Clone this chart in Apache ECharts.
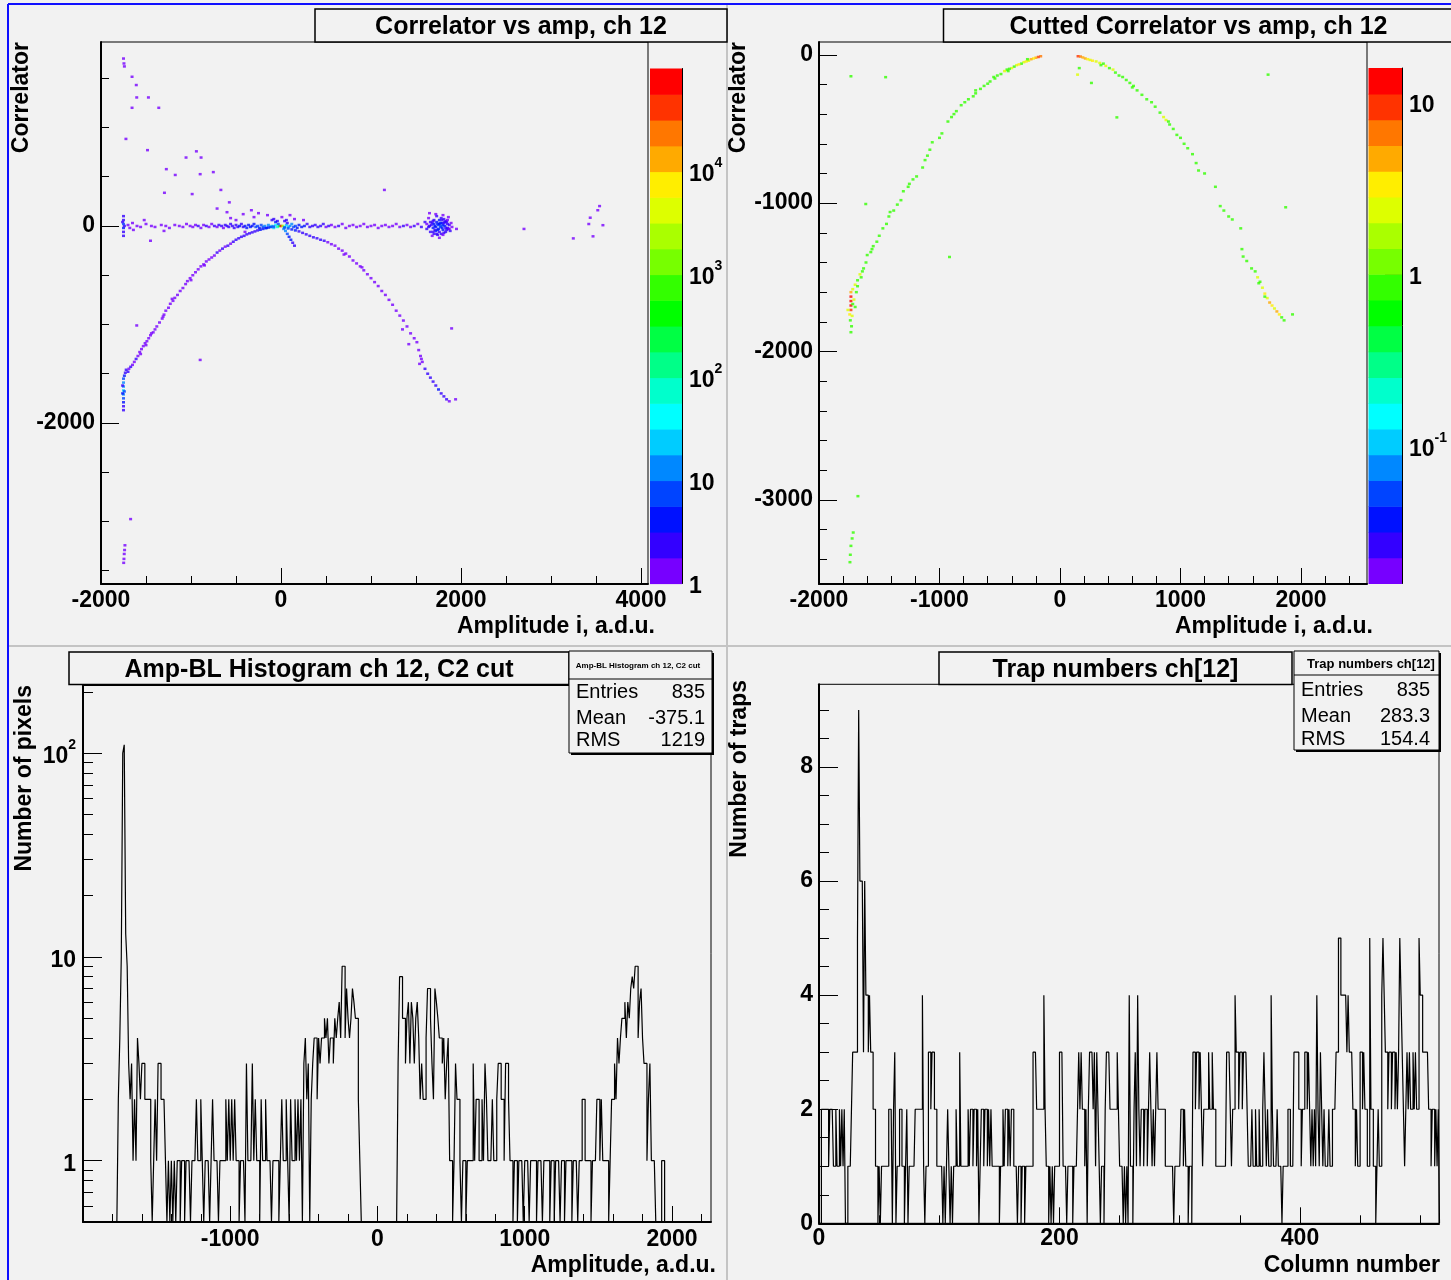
<!DOCTYPE html>
<html><head><meta charset="utf-8">
<script src="https://cdn.jsdelivr.net/npm/echarts@6/dist/echarts.min.js"></script>
<style>html,body{margin:0;padding:0;background:#f2f2f2}#c{width:1451px;height:1280px}</style>
</head><body><div id="c"></div>
<script>
const FONT = '"Liberation Sans", Arial, Helvetica, sans-serif';

// ---------- palette (bottom -> top) ----------
const palette = ['#7700ff','#3300ff','#0011ff','#0044ff','#0088ff','#00ccff','#00ffff','#00ffcc','#00ff88','#00ff44',
                 '#00ff00','#33ff00','#77ff00','#aaff00','#ddff00','#ffee00','#ffaa00','#ff7700','#ff3300','#ff0000'];
const tlZRange = [1, 100000];
const trZRange = [0.01585, 15.85];

// ---------- Top-left: Correlator vs amp (x, y, content) ----------
const tlBins = [
 [-1750,1700,1],[-1745,1650,1],[-1740,1620,1],[-1655,1515,1],[-1608,1431,1],[-1603,1305,1],[-1473,1305,1],[-1655,1200,1],
 [-1358,1200,1],[-1723,884,1],[-1483,770,1],[-940,758,1],[-1055,695,1],[-888,695,1],[-1274,577,1],[-1175,518,1],[-898,526,1],
 [-752,547,1],[-1295,337,1],[-987,324,1],[-668,366,1],[-574,240,1],[-710,177,1],[-329,160,1],[1149,366,1],[3540,202,1],
 [3520,160,1],[3436,84,1],[3467,-105,1],[3248,-126,1],[3577,8,1],[3420,20,1],[2700,-30,1],[-898,-1360,1],[1896,-1040,1],
 [-1603,-1010,1],[-1671,-2976,1],[-1734,-3242,1],[-1738,-3290,1],[-1742,-3330,1],[-1745,-3380,1],[-1748,-3420,1],
 [-1750,100,2],[-1750,60,3],[-1750,20,6],[-1750,-20,5],[-1750,-60,3],[-1750,-100,2],[-1740,0,3],[-1760,40,2],
 [-1700,10,1],[-1680,-20,1],[-1650,30,1],[-1640,-40,1],[-1600,0,1],[-1560,-10,1],[-1500,20,1],[-1440,0,1],[-1400,-10,1],
 [-1330,10,1],[-1280,0,1],[-1240,-20,1],[-1180,10,1],[-1130,0,1],[-1090,-10,1],[-1050,20,1],[-1010,0,1],[-980,-10,1],
 [-950,10,1],[-920,0,2],[-890,-20,1],[-860,10,1],[-830,0,2],[-800,-10,1],[-770,20,1],[-740,0,2],[-710,-10,1],[-690,10,2],
 [-660,0,2],[-640,-20,1],[-620,10,2],[-600,0,3],[-580,-10,2],[-560,20,2],[-540,0,3],[-520,-20,2],[-500,10,3],[-480,-10,3],
 [-460,0,4],[-440,20,3],[-420,-10,3],[-400,0,4],[-380,-20,4],[-360,10,4],[-340,-10,5],[-320,0,5],[-300,20,4],[-280,-10,6],
 [-260,0,6],[-240,-20,5],[-220,10,7],[-200,-10,8],[-180,0,10],[-160,-20,8],[-140,10,12],[-120,-10,15],[-100,0,25],
 [-80,-20,20],[-60,10,40],[-40,-10,80],[-20,0,300],[0,0,60000],[20,0,2000],[40,-10,60],[60,10,30],[80,-10,20],[100,0,15],
 [120,20,10],[140,-10,8],[160,0,6],[180,-20,5],[200,10,5],[230,-10,4],[260,0,4],[290,20,3],[320,-10,3],[350,0,3],[380,10,2],
 [410,-10,2],[440,0,2],[470,20,2],[500,-10,1],[530,0,2],[560,10,1],[600,-10,1],[640,0,2],[680,20,1],[720,-20,1],[760,0,1],
 [800,10,1],[840,-10,1],[880,0,1],[920,20,1],[960,-10,1],[1000,0,1],[1040,10,1],[1080,-20,1],[1120,0,1],[1160,10,1],
 [1200,-10,1],[1240,0,1],[1280,20,1],[1320,-10,1],[1360,0,2],[1400,10,1],[1440,-10,1],[1480,0,2],[1520,20,1],[1560,-10,2],
 [1600,40,2],[1620,-30,2],[1640,80,1],[1650,0,3],[1660,-60,2],[1680,30,3],[1690,-20,4],[1700,60,3],[1710,0,5],[1720,-50,4],
 [1730,100,2],[1740,20,5],[1750,-30,5],[1760,60,4],[1770,-10,6],[1780,-80,3],[1790,30,5],[1800,-40,4],[1810,70,3],[1820,0,5],
 [1830,-60,3],[1840,40,3],[1850,-20,3],[1860,90,1],[1870,10,2],[1880,-50,2],[1890,30,1],[1900,-10,1],[1720,120,1],
 [1760,-120,1],[1800,110,1],[1680,-100,1],[1950,-30,1],[1650,130,1],[1700,-80,2],[1740,-90,2],[1780,80,2],[1830,50,2],
 [1670,10,3],[1690,50,2],[1710,-40,3],[1730,40,4],[1750,10,6],[1760,-60,3],[1770,30,5],[1790,-20,5],[1800,10,4],[1810,-70,2],
 [1820,40,3],[1840,-40,3],[1850,20,2],[1860,-30,2],[1700,20,4],[1720,-10,5],[1740,-40,4],[1780,0,6],[1760,20,5],[1730,-80,2],
 [1790,60,2],[1810,30,3],[1830,-20,3],[1870,-30,1],[1690,-60,2],[1660,40,2],[1640,-10,2],[1620,20,1],[1850,60,1],[1800,-90,1],
 [-600,140,1],[-560,80,1],[-500,60,1],[-420,120,1],[-300,90,1],[-250,130,1],[-150,110,1],[-80,70,2],[-40,50,3],[10,90,1],
 [60,60,2],[100,110,1],[150,70,1],[250,60,1],[-400,-60,1],[-1450,-150,1],[-1520,60,1],[-1300,-50,1],
 [-60,40,4],[-30,20,8],[30,-30,15],[50,-50,10],[70,-80,8],[90,-110,5],[110,-140,4],[130,-170,3],[150,-200,2],[-100,60,2],
 [40,50,3],[70,30,2],
 [-1750,-1870,2],[-1750,-1830,3],[-1750,-1790,5],[-1750,-1750,8],[-1750,-1710,12],[-1750,-1670,20],[-1750,-1630,15],
 [-1750,-1590,10],[-1750,-1550,6],[-1740,-1520,4],[-1730,-1490,3],[-1720,-1460,2],[-1760,-1700,4],[-1740,-1680,6],
 [-1760,-1620,3],[-1700,-1480,2],[-1690,-1450,1],[-1670,-1430,2],[-1650,-1410,1],[-1630,-1380,1],[-1610,-1350,2],
 [-1590,-1320,1],[-1570,-1280,1],[-1550,-1250,1],[-1530,-1220,1],[-1510,-1190,1],[-1490,-1170,1],[-1470,-1140,1],
 [-1450,-1110,1],[-1420,-1080,1],[-1400,-1050,1],[-1380,-1020,1],[-1350,-980,1],[-1320,-940,1],[-1300,-900,1],
 [-1280,-860,1],[-1250,-830,1],[-1230,-790,1],[-1200,-760,1],[-1180,-730,1],[-1150,-700,1],[-1120,-660,1],[-1090,-630,1],
 [-1060,-590,1],[-1040,-560,1],[-1010,-530,1],[-980,-500,1],[-950,-470,1],[-920,-440,1],[-890,-410,1],[-860,-390,1],
 [-830,-360,1],[-800,-340,1],[-770,-320,1],[-740,-300,1],[-710,-270,2],[-680,-250,1],[-650,-230,2],[-620,-210,1],
 [-590,-200,2],[-560,-180,1],[-530,-160,2],[-500,-140,2],[-470,-125,2],[-440,-110,2],[-410,-100,2],[-380,-85,2],
 [-350,-75,3],[-320,-65,3],[-290,-55,3],[-260,-45,3],[-230,-38,4],[-200,-30,4],[-170,-22,5],[-140,-16,5],[-110,-10,6],
 [-80,-6,8],[-1500,-1210,1],[-1440,-1090,1],[-1000,-550,1],[-1210,-740,1],[-1310,-920,1],[-1560,-1300,1],[-850,-400,1],
 [40,-15,8],[80,-25,6],[120,-35,5],[160,-45,4],[200,-55,3],[240,-70,3],[280,-85,3],[320,-100,2],[360,-115,2],[400,-125,2],
 [440,-140,2],[480,-150,2],[520,-165,1],[560,-185,1],[600,-200,1],[640,-230,1],[680,-250,1],[720,-280,1],[760,-310,1],
 [800,-350,1],[840,-380,1],[880,-410,1],[920,-450,1],[960,-490,1],[1000,-530,1],[1040,-570,1],[1080,-610,1],[1120,-660,1],
 [1160,-700,1],[1200,-750,1],[1240,-800,1],[1280,-860,1],[1320,-910,1],[1360,-960,1],[1400,-1020,1],[1440,-1090,1],
 [1480,-1140,1],[1510,-1180,1],[1530,-1260,1],[1550,-1320,1],[1570,-1380,1],[1600,-1450,2],[1630,-1500,2],[1660,-1540,2],
 [1690,-1580,3],[1720,-1620,3],[1750,-1660,4],[1780,-1700,3],[1810,-1730,3],[1840,-1760,2],[1870,-1780,1],[1940,-1760,1],
 [1540,-1400,1],[1560,-1350,1],[1350,-1050,1],[1420,-1200,1],[700,-290,1],[900,-420,1]
];

// ---------- Top-right: Cutted correlator vs amp (x, y, content) ----------
const trBins = [
 [-160,-10,6],[-180,-15,8],[-200,-20,5],[-220,-25,3],[-240,-30,4],[-260,-40,2],[-280,-45,3],[-300,-50,2],[-320,-60,1],
 [-340,-65,3],[-360,-70,2],[-380,-80,1],[-400,-90,2],[-420,-95,1],[-440,-100,1],[-460,-110,2],[-490,-130,1],[-520,-140,1],
 [-550,-150,1],[-580,-180,1],[-600,-195,1],[-630,-210,1],[-660,-230,1],[-700,-260,1],[-720,-280,1],[-760,-300,1],
 [-790,-320,1],[-820,-340,1],[-860,-380,1],[-880,-400,1],[-930,-450,1],[-980,-530,1],[-1000,-560,1],[-1060,-590,1],
 [-1080,-640,1],[-1120,-710,1],[-1140,-760,1],[-1190,-820,1],[-1220,-840,1],[-1260,-890,1],[-1300,-920,1],[-1320,-980,1],
 [-1350,-1010,1],[-1380,-1050,1],[-1420,-1090,1],[-1440,-1140,1],[-1470,-1170,1],[-1500,-1220,1],[-1520,-1260,1],
 [-1550,-1290,1],[-1570,-1330,1],[-1600,-1350,1],[-1610,-1400,1],[-1630,-1440,1],[-1660,-1480,2],[-1680,-1520,1],
 [-1700,-1550,2],[-1720,-1580,2],[-1735,-1600,5],[-1735,-1630,14],[-1735,-1660,15],[-1735,-1690,12],[-1735,-1720,10],
 [-1745,-1750,3],[-1725,-1760,2],[-1740,-1790,1],[-1730,-1830,1],[-1735,-1870,1],[-1700,-1700,1],[-1710,-1650,2],
 [-1690,-1600,1],[-1680,-1560,1],[-1650,-1500,1],[-1760,-1720,2],[-1720,-1680,1],[-1640,-1460,1],[-1560,-1310,1],
 [-1410,-1060,1],[-1250,-870,1],[-1100,-680,1],[-900,-420,1],[-700,-240,1],[-540,-160,1],[-430,-110,1],[-270,-30,1],
 [150,-10,8],[170,-12,6],[190,-18,4],[210,-25,5],[230,-30,3],[250,-35,2],[270,-40,3],[300,-45,2],[330,-55,2],[360,-60,1],
 [380,-75,2],[410,-90,1],[440,-100,2],[460,-120,1],[490,-140,1],[520,-150,1],[550,-170,1],[580,-190,1],[610,-210,1],
 [640,-240,1],[680,-270,1],[720,-300,1],[760,-320,1],[790,-350,1],[830,-390,1],[860,-420,2],[880,-440,2],[910,-470,1],
 [940,-500,1],[970,-540,1],[1000,-560,1],[1030,-600,1],[1060,-630,1],[1100,-670,1],[1130,-730,1],[1150,-780,1],
 [1200,-800,1],[1290,-890,1],[1330,-1020,1],[1360,-1050,1],[1400,-1090,1],[1430,-1110,1],[1500,-1170,1],[1510,-1310,1],
 [1520,-1360,1],[1550,-1390,1],[1590,-1440,1],[1620,-1460,1],[1640,-1500,2],[1660,-1530,1],[1680,-1570,2],[1700,-1610,3],
 [1720,-1640,2],[1740,-1670,4],[1760,-1690,3],[1780,-1710,2],[1800,-1730,5],[1820,-1750,3],[1840,-1770,1],[1860,-1790,1],
 [1930,-1750,1],[340,-70,1],[600,-220,1],[900,-450,1],[1650,-1540,1],[1700,-1630,1],
 [-1735,-145,1],[-1447,-151,1],[-1612,-1006,1],[-917,-1363,1],[1727,-134,1],[1873,-1028,1],[-1677,-2975,1],[-1716,-3220,1],
 [-1725,-3260,1],[-1735,-3310,1],[-1740,-3370,1],[-1743,-3420,1],[146,-134,2],[261,-190,1],[472,-422,1],[160,-90,1]
];

// ---------- Bottom-left: Amp-BL histogram (bins of 10 a.d.u. starting at -1770) ----------
const ampStart = -1770, ampBinWidth = 10;
const ampCounts = [
 0,2,4,10,100,110,13,9,3,2,  3,1,2,1,4,3,2,3,3,2,  2,2,2,1,0,1,2,1,3,3,  2,2,2,1,0,1,0,1,0,1,
 0,1,1,0,1,1,0,1,1,1,  0,1,1,1,2,1,1,2,1,0,  1,1,1,0,1,2,1,1,1,0,  1,1,1,1,2,1,2,1,2,1,
 2,1,1,0,1,1,1,0,3,1,  1,1,3,1,2,1,1,0,2,1,  1,2,1,1,1,0,1,1,1,1,  0,1,2,1,1,2,1,0,2,1,
 1,2,1,2,1,2,0,3,4,2,  3,0,2,3,4,4,2,4,3,4,  4,5,4,5,3,4,4,3,5,4,  5,6,4,9,9,4,7,5,4,5,
 7,6,5,5,2,1,0,0,0,0,  0,0,0,0,0,0,0,0,0,0,  0,0,0,0,0,0,0,0,0,0,  0,3,8,8,5,5,3,5,6,3,
 6,5,3,5,6,4,2,3,2,2,  4,7,7,5,3,2,7,6,5,4,  4,3,4,2,3,4,1,1,0,1,  3,2,2,1,0,1,1,0,1,1,
 1,1,3,1,2,2,1,1,2,1,  3,2,1,1,1,2,1,1,2,3,  3,2,2,1,3,3,2,1,1,0,  1,1,0,1,1,1,0,1,1,1,
 0,1,1,1,1,0,1,1,1,0,  1,1,1,1,0,1,1,0,1,1,  1,0,1,1,0,1,1,1,1,0,  1,1,1,0,1,1,2,2,1,1,
 1,1,0,1,1,1,2,2,1,2,  1,1,1,1,0,1,2,2,3,2,  4,3,4,5,5,6,4,6,5,7,  8,7,9,9,4,6,7,4,3,3,
 1,2,3,1,1,1,0,0,0,0,  1,1,0
];

// ---------- Bottom-right: trap numbers per column (columns 0..515) ----------
const trapStart = 0, trapBinWidth = 1;
const trapCounts = [
 0,0,2,2,2,2,2,2,1,2,2,2,1,1,2,1,1,2,1,2,
 1,2,0,0,1,1,1,2,3,3,3,3,5,9,6,6,6,3,6,4,
 4,3,4,3,3,2,2,1,1,0,1,0,1,1,1,1,1,1,2,2,
 2,0,2,3,0,1,1,2,2,1,1,0,1,2,0,1,1,1,1,1,
 2,2,2,2,2,2,4,1,0,1,1,3,3,2,3,3,2,2,1,1,
 1,1,1,0,1,0,1,2,1,0,1,0,1,1,2,1,1,3,1,1,
 1,1,1,1,2,1,2,2,1,2,2,1,2,0,1,2,2,1,2,2,
 1,2,1,2,1,1,1,1,1,1,0,1,1,2,1,2,2,1,2,1,
 2,2,1,1,1,0,1,1,0,1,1,0,1,1,1,1,1,1,3,3,
 3,2,2,2,2,2,2,4,2,1,1,0,1,0,1,0,1,1,1,1,
 3,3,3,1,1,1,0,1,1,1,1,0,1,1,1,2,3,2,3,2,
 2,1,2,0,2,3,3,3,2,3,1,3,2,1,0,1,1,0,2,3,
 3,3,2,2,2,2,2,2,3,2,1,1,1,0,1,0,1,0,4,1,
 1,0,2,3,1,4,2,1,2,2,1,2,2,1,2,3,2,1,2,1,
 2,3,2,2,2,2,2,2,1,1,1,1,1,1,1,0,1,1,1,1,
 1,2,2,1,2,1,1,0,1,1,0,3,3,2,3,3,2,3,2,1,
 2,2,2,2,3,2,2,3,2,2,1,1,1,1,1,1,1,1,1,3,
 3,3,2,1,2,2,4,3,3,2,3,3,2,3,3,3,2,1,1,1,
 2,1,1,2,1,1,2,1,1,2,3,2,1,2,1,1,4,2,1,1,
 1,2,1,1,1,0,1,1,1,1,2,2,1,1,1,3,3,3,3,2,
 2,1,2,2,3,3,2,3,2,1,2,1,2,1,4,2,1,3,2,1,
 2,1,1,1,2,1,1,2,2,2,3,3,5,5,4,4,4,4,4,3,
 4,3,3,3,2,2,1,2,1,1,3,3,2,3,2,2,1,1,5,2,
 2,1,1,0,1,2,1,1,4,5,4,3,3,2,3,3,2,3,3,2,
 3,2,3,5,4,3,2,1,2,3,2,3,2,2,3,2,3,2,2,5,
 4,4,3,3,3,3,3,2,2,1,2,2,1,2,1,2
];

// ---------- stats ----------
const ampStats = [['Entries','835'],['Mean','-375.1'],['RMS','1219']];
const trapStats = [['Entries','835'],['Mean','283.3'],['RMS','154.4']];

// ---------- tick values ----------
const tlXMajor = [-2000,0,2000,4000], tlXMinor = [-1500,-1000,-500,500,1000,1500,2500,3000,3500];
const tlYMajor = [-2000,0], tlYMinor = [-3500,-3000,-2500,-1500,-1000,-500,500,1000,1500];
const tlZMajor = [1,10,100,1000,10000], tlZMinor = [2,3,4,5,6,7,8,9,20,30,40,50,60,70,80,90,200,300,400,500,600,700,800,900,2000,3000,4000,5000,6000,7000,8000,9000,20000,30000,40000,50000,60000,70000,80000,90000];
const trXMajor = [-2000,-1000,0,1000,2000], trXMinor = [-1800,-1600,-1400,-1200,-800,-600,-400,-200,200,400,600,800,1200,1400,1600,1800,2200,2400];
const trYMajor = [-3000,-2000,-1000,0], trYMinor = [-3400,-3200,-2800,-2600,-2400,-2200,-1800,-1600,-1400,-1200,-800,-600,-400,-200];
const trZMajor = [0.1,1,10], trZMinor = [0.02,0.03,0.04,0.05,0.06,0.07,0.08,0.09,0.2,0.3,0.4,0.5,0.6,0.7,0.8,0.9,2,3,4,5,6,7,8,9];
const blXMajor = [-1000,0,1000,2000], blXMinor = [-1800,-1600,-1400,-1200,-800,-600,-400,-200,200,400,600,800,1200,1400,1600,1800,2200];
const blYMajor = [1,10,100], blYMinor = [0.6,0.7,0.8,0.9,2,3,4,5,6,7,8,9,20,30,40,50,60,70,80,90,200];
const brXMajor = [0,200,400], brXMinor = [50,100,150,250,300,350,450,500];
const brYMajor = [0,2,4,6,8], brYMinor = [0.5,1,1.5,2.5,3,3.5,4.5,5,5.5,6.5,7,7.5,8.5,9];

// ---------- helpers ----------
function bandOf(c, r) {
  const f = (Math.log10(c) - Math.log10(r[0])) / (Math.log10(r[1]) - Math.log10(r[0])) * palette.length;
  return Math.max(0, Math.min(palette.length - 1, Math.floor(f + 1e-9)));
}
function colorbarData(r) {
  const lr = Math.log10(r[1] / r[0]);
  return palette.map((_, i) => [0.5, r[0] * Math.pow(10, lr * i / palette.length), r[0] * Math.pow(10, lr * (i + 1) / palette.length), i]);
}
function histLine(start, width, counts, floor) {
  const pts = [[start, floor]];
  counts.forEach((c, i) => { const v = c > 0 ? c : floor; const x0 = start + i * width; pts.push([x0, v], [x0 + width, v]); });
  pts.push([start + counts.length * width, floor]);
  return pts;
}
const logFmt = v => { const e = Math.round(Math.log10(v)); if (e === 0) return '{b|1}'; if (e === 1) return '{b|10}'; return '{b|10}{s|' + e + '}'; };
const rich = {
  b: {fontSize: 23, fontWeight: 'bold', fontFamily: FONT, color: '#000', lineHeight: 30, verticalAlign: 'bottom'},
  s: {fontSize: 14, fontWeight: 'bold', fontFamily: FONT, color: '#000', lineHeight: 14, verticalAlign: 'top'}
};
function axis(o) {
  const a = {
    type: o.type || 'value', gridIndex: o.grid, min: o.min, max: o.max, position: o.pos, show: o.show !== false,
    splitLine: {show: false},
    axisLine: {show: !!o.line, onZero: false, lineStyle: {color: '#000', width: o.lineW || 2}},
    axisTick: {show: !!o.ticks, inside: true, length: o.len || 8, customValues: o.ticks, lineStyle: {color: '#000', width: 1}},
    axisLabel: o.labels ? {show: true, customValues: o.labels, margin: o.margin, color: '#000', fontFamily: FONT,
      fontWeight: 'bold', fontSize: 23, padding: o.pad || 0, formatter: o.fmt || (v => String(v)), rich: o.fmt ? rich : undefined} : {show: false}
  };
  if (a.type === 'log') a.logBase = 10;
  return a;
}
function scatter(xi, yi, data, r) {
  return {type: 'scatter', xAxisIndex: xi, yAxisIndex: yi, data, symbol: 'rect', symbolSize: [3, 2.5], silent: true,
    itemStyle: {color: p => palette[bandOf(p.value[2], r)]}};
}
function colorbar(xi, yi, r) {
  return {type: 'custom', xAxisIndex: xi, yAxisIndex: yi, data: colorbarData(r), encode: {x: 0, y: 1}, silent: true,
    renderItem(params, api) {
      const lo = api.coord([0, api.value(1)]), hi = api.coord([1, api.value(2)]);
      return {type: 'rect', shape: {x: lo[0], y: hi[1], width: hi[0] - lo[0], height: lo[1] - hi[1] + 0.6}, style: {fill: palette[api.value(3)]}};
    }};
}
function hist(xi, yi, pts) {
  return {type: 'line', xAxisIndex: xi, yAxisIndex: yi, data: pts, symbol: 'none', showSymbol: false, silent: true,
    lineStyle: {color: '#000', width: 1.2}, clip: true};
}
function titleBox(x, y, w, h, text) {
  return [
    {type: 'rect', z: 100, shape: {x, y, width: w, height: h}, style: {fill: '#f2f2f2', stroke: '#000', lineWidth: 1.5}},
    {type: 'text', z: 101, x: x + w / 2, y: y + h / 2 + 2, style: {text, font: 'bold 25px ' + FONT, fill: '#000', align: 'center', verticalAlign: 'middle'}}
  ];
}
function statsBox(x, y, w, h, sepY, header, headerFont, hx, hy, rows, lx, rx, ys) {
  const els = [
    {type: 'rect', z: 100, shape: {x: x + 2, y: y + 2, width: w, height: h}, style: {fill: '#000'}},
    {type: 'rect', z: 101, shape: {x, y, width: w, height: h}, style: {fill: '#f2f2f2', stroke: '#000', lineWidth: 1}},
    {type: 'line', z: 102, shape: {x1: x, y1: sepY, x2: x + w, y2: sepY}, style: {stroke: '#000', lineWidth: 1}},
    {type: 'text', z: 102, x: hx, y: hy, style: {text: header, font: headerFont, fill: '#000', align: 'center', verticalAlign: 'middle'}}
  ];
  rows.forEach((r, i) => {
    els.push({type: 'text', z: 102, x: lx, y: ys[i], style: {text: r[0], font: '20px ' + FONT, fill: '#000', align: 'left', verticalAlign: 'middle'}});
    els.push({type: 'text', z: 102, x: rx, y: ys[i], style: {text: r[1], font: '20px ' + FONT, fill: '#000', align: 'right', verticalAlign: 'middle'}});
  });
  return els;
}
function label(text, x, y, align, rot) {
  return {type: 'text', z: 50, x, y, rotation: rot || 0, style: {text, font: 'bold 23px ' + FONT, fill: '#000', align, verticalAlign: 'middle'}};
}
function ln(x1, y1, x2, y2, c, w) { return {type: 'line', z: 90, shape: {x1, y1, x2, y2}, style: {stroke: c, lineWidth: w}}; }

const G = {show: true, borderColor: '#000', borderWidth: 1, backgroundColor: 'transparent', containLabel: false, outerBoundsMode: 'none'};
const GC = {show: false, containLabel: false, outerBoundsMode: 'none'};

const option = {
  animation: false,
  backgroundColor: '#f2f2f2',
  textStyle: {fontFamily: FONT},
  grid: [
    Object.assign({left: 101, top: 42, width: 547, height: 542}, G),
    Object.assign({left: 650, top: 68.5, width: 32, height: 515}, GC),
    Object.assign({left: 819, top: 42, width: 548, height: 542}, G),
    Object.assign({left: 1368.5, top: 68, width: 33.5, height: 515.5}, GC),
    Object.assign({left: 83, top: 685.5, width: 628, height: 536.5}, G),
    Object.assign({left: 819, top: 684.3, width: 620, height: 539}, G)
  ],
  xAxis: [
    axis({grid: 0, min: -2000, max: 4078, pos: 'bottom', line: true, ticks: tlXMajor, len: 16, labels: tlXMajor, margin: 5}),
    axis({grid: 0, min: -2000, max: 4078, pos: 'bottom', ticks: tlXMinor, len: 8}),
    axis({grid: 1, min: 0, max: 1, show: false}),
    axis({grid: 2, min: -2000, max: 2548, pos: 'bottom', line: true, ticks: trXMajor, len: 16, labels: trXMajor, margin: 5}),
    axis({grid: 2, min: -2000, max: 2548, pos: 'bottom', ticks: trXMinor, len: 8}),
    axis({grid: 3, min: 0, max: 1, show: false}),
    axis({grid: 4, min: -2000, max: 2265, pos: 'bottom', line: true, ticks: blXMajor, len: 16, labels: blXMajor, margin: 6}),
    axis({grid: 4, min: -2000, max: 2265, pos: 'bottom', ticks: blXMinor, len: 8}),
    axis({grid: 5, min: 0, max: 515.6, pos: 'bottom', line: true, ticks: brXMajor, len: 16, labels: brXMajor, margin: 4}),
    axis({grid: 5, min: 0, max: 515.6, pos: 'bottom', ticks: brXMinor, len: 8})
  ],
  yAxis: [
    axis({grid: 0, min: -3635, max: 1868, pos: 'left', line: true, ticks: tlYMajor, len: 18, labels: tlYMajor, margin: 6, pad: [3, 0, 0, 0]}),
    axis({grid: 0, min: -3635, max: 1868, pos: 'left', ticks: tlYMinor, len: 8}),
    axis({grid: 1, type: 'log', min: tlZRange[0], max: tlZRange[1], pos: 'right', line: true, lineW: 1, ticks: tlZMajor, len: 17, labels: tlZMajor, margin: 7, fmt: logFmt}),
    axis({grid: 1, type: 'log', min: tlZRange[0], max: tlZRange[1], pos: 'right', ticks: tlZMinor, len: 9}),
    axis({grid: 2, min: -3567, max: 86, pos: 'left', line: true, ticks: trYMajor, len: 18, labels: trYMajor, margin: 6, pad: [3, 0, 0, 0]}),
    axis({grid: 2, min: -3567, max: 86, pos: 'left', ticks: trYMinor, len: 8}),
    axis({grid: 3, type: 'log', min: trZRange[0], max: trZRange[1], pos: 'right', line: true, lineW: 1, ticks: trZMajor, len: 17, labels: trZMajor, margin: 7, fmt: logFmt}),
    axis({grid: 3, type: 'log', min: trZRange[0], max: trZRange[1], pos: 'right', ticks: trZMinor, len: 9}),
    axis({grid: 4, type: 'log', min: 0.5, max: 215, pos: 'left', line: true, ticks: blYMajor, len: 19, labels: blYMajor, margin: 7, fmt: logFmt}),
    axis({grid: 4, type: 'log', min: 0.5, max: 215, pos: 'left', ticks: blYMinor, len: 10}),
    axis({grid: 5, min: 0, max: 9.45, pos: 'left', line: true, ticks: brYMajor, len: 19, labels: brYMajor, margin: 6, pad: [2, 0, 0, 0]}),
    axis({grid: 5, min: 0, max: 9.45, pos: 'left', ticks: brYMinor, len: 10})
  ],
  series: [
    scatter(0, 0, tlBins, tlZRange),
    colorbar(2, 2, tlZRange),
    scatter(3, 4, trBins, trZRange),
    colorbar(5, 6, trZRange),
    hist(6, 8, histLine(ampStart, ampBinWidth, ampCounts, 0.5)),
    hist(8, 10, histLine(trapStart, trapBinWidth, trapCounts, 0))
  ],
  graphic: {elements: [].concat(
    [ln(8, 4, 1451, 4, '#1010ff', 2), ln(8, 4, 8, 1280, '#1010ff', 2),
     ln(727, 5, 727, 1280, '#c4c4c4', 2), ln(9, 646, 1451, 646, '#c4c4c4', 2)],
    titleBox(315, 9, 412, 33, 'Correlator vs amp, ch 12'),
    titleBox(943.5, 9, 510, 33, 'Cutted Correlator vs amp, ch 12'),
    titleBox(69, 652, 500, 32.5, 'Amp-BL Histogram ch 12, C2 cut'),
    titleBox(939, 652, 353, 32.5, 'Trap numbers ch[12]'),
    statsBox(569, 651, 143, 102, 679, 'Amp-BL Histogram ch 12, C2 cut', 'bold 8px ' + FONT, 638, 666, ampStats, 576, 705, [692, 718, 740]),
    statsBox(1294, 651, 145, 99, 675, 'Trap numbers ch[12]', 'bold 13px ' + FONT, 1371, 664, trapStats, 1301, 1430, [690, 716, 739]),
    [label('Correlator', 22, 42, 'right', Math.PI / 2),
     label('Correlator', 739, 42, 'right', Math.PI / 2),
     label('Number of pixels', 24.5, 685, 'right', Math.PI / 2),
     label('Number of traps', 740, 680, 'right', Math.PI / 2),
     label('Amplitude i, a.d.u.', 655, 627, 'right'),
     label('Amplitude i, a.d.u.', 1373, 627, 'right'),
     label('Amplitude, a.d.u.', 716, 1266, 'right'),
     label('Column number', 1440, 1266, 'right')]
  )}
};

const chart = echarts.init(document.getElementById('c'), null, {renderer: 'canvas'});
chart.setOption(option);
</script>
</body></html>
